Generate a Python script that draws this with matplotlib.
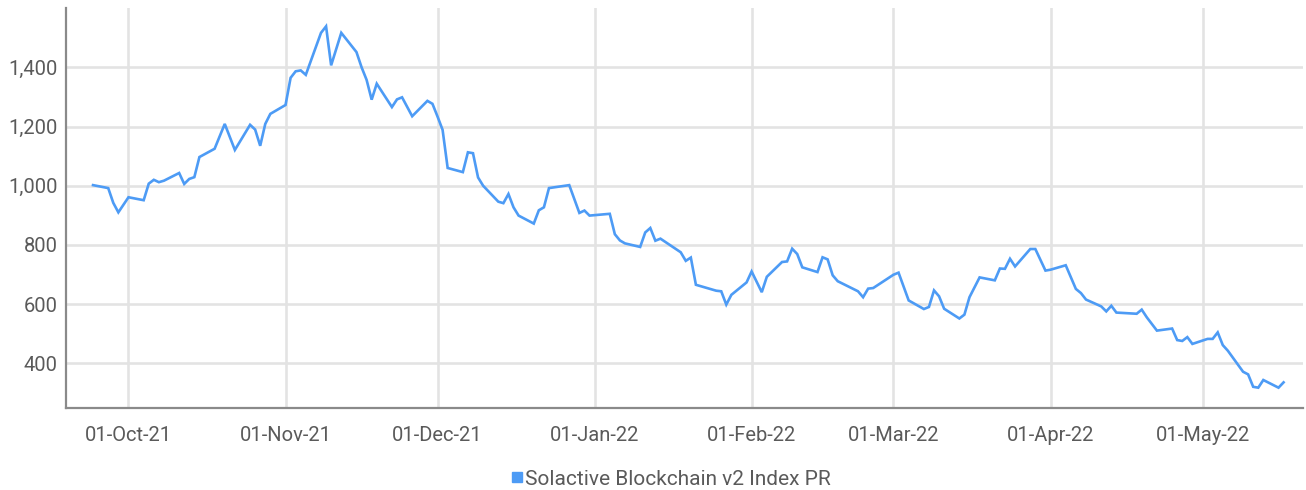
import matplotlib
matplotlib.use("Agg")
import matplotlib.pyplot as plt
import matplotlib.dates as mdates
from matplotlib.lines import Line2D
import pandas as pd

plt.rcParams['font.family'] = ['Roboto', 'DejaVu Sans']

# Solactive Blockchain v2 Index PR, daily closes
dates = [
    "2021-09-24", "2021-09-27", "2021-09-28", "2021-09-29", "2021-10-01",
    "2021-10-04", "2021-10-05", "2021-10-06", "2021-10-07", "2021-10-08",
    "2021-10-11", "2021-10-12", "2021-10-13", "2021-10-14", "2021-10-15",
    "2021-10-18", "2021-10-20", "2021-10-22", "2021-10-25", "2021-10-26",
    "2021-10-27", "2021-10-28", "2021-10-29", "2021-11-01", "2021-11-02",
    "2021-11-03", "2021-11-04", "2021-11-05", "2021-11-08", "2021-11-09",
    "2021-11-10", "2021-11-12", "2021-11-15", "2021-11-16", "2021-11-17",
    "2021-11-18", "2021-11-19", "2021-11-22", "2021-11-23", "2021-11-24",
    "2021-11-26", "2021-11-29", "2021-11-30", "2021-12-01", "2021-12-02",
    "2021-12-03", "2021-12-06", "2021-12-07", "2021-12-08", "2021-12-09",
    "2021-12-10", "2021-12-13", "2021-12-14", "2021-12-15", "2021-12-16",
    "2021-12-17", "2021-12-20", "2021-12-21", "2021-12-22", "2021-12-23",
    "2021-12-27", "2021-12-29", "2021-12-30", "2021-12-31", "2022-01-04",
    "2022-01-05", "2022-01-06", "2022-01-07", "2022-01-10", "2022-01-11",
    "2022-01-12", "2022-01-13", "2022-01-14", "2022-01-18", "2022-01-19",
    "2022-01-20", "2022-01-21", "2022-01-25", "2022-01-26", "2022-01-27",
    "2022-01-28", "2022-01-31", "2022-02-01", "2022-02-03", "2022-02-04",
    "2022-02-07", "2022-02-08", "2022-02-09", "2022-02-10", "2022-02-11",
    "2022-02-14", "2022-02-15", "2022-02-16", "2022-02-17", "2022-02-18",
    "2022-02-22", "2022-02-23", "2022-02-24", "2022-02-25", "2022-02-28",
    "2022-03-01", "2022-03-02", "2022-03-04", "2022-03-07", "2022-03-08",
    "2022-03-09", "2022-03-10", "2022-03-11", "2022-03-14", "2022-03-15",
    "2022-03-16", "2022-03-18", "2022-03-21", "2022-03-22", "2022-03-23",
    "2022-03-24", "2022-03-25", "2022-03-28", "2022-03-29", "2022-03-31",
    "2022-04-01", "2022-04-04", "2022-04-06", "2022-04-07", "2022-04-08",
    "2022-04-11", "2022-04-12", "2022-04-13", "2022-04-14", "2022-04-18",
    "2022-04-19", "2022-04-20", "2022-04-22", "2022-04-25", "2022-04-26",
    "2022-04-27", "2022-04-28", "2022-04-29", "2022-05-02", "2022-05-03",
    "2022-05-04", "2022-05-05", "2022-05-06", "2022-05-09", "2022-05-10",
    "2022-05-11", "2022-05-12", "2022-05-13", "2022-05-16", "2022-05-17",
]
index_values = [
    1002, 992, 942, 910, 961,
    951, 1007, 1020, 1012, 1017,
    1043, 1006, 1023, 1029, 1097,
    1125, 1209, 1121, 1206, 1190,
    1135, 1209, 1243, 1273, 1365,
    1387, 1390, 1375, 1517, 1539,
    1407, 1517, 1452, 1401, 1358,
    1291, 1345, 1266, 1292, 1299,
    1235, 1287, 1277, 1234, 1189,
    1060, 1046, 1113, 1110, 1028,
    1000, 946, 941, 972, 927,
    899, 872, 917, 927, 992,
    1002, 908, 916, 899, 905,
    836, 815, 805, 793, 842,
    857, 814, 821, 775, 746,
    757, 665, 645, 643, 598,
    631, 673, 710, 640, 692,
    742, 744, 787, 769, 724,
    708, 758, 751, 697, 677,
    643, 623, 652, 654, 688,
    699, 706, 612, 583, 590,
    646, 626, 584, 551, 564,
    623, 690, 680, 720, 719,
    753, 727, 786, 786, 713,
    716, 731, 651, 637, 615,
    592, 575, 594, 571, 567,
    581, 555, 510, 517, 478,
    475, 488, 465, 482, 482,
    504, 461, 442, 371, 362,
    320, 317, 343, 317, 335,
]
series_label = "Solactive Blockchain v2 Index PR"
y_ticks = [400, 600, 800, 1000, 1200, 1400]
month_ticks = ["2021-10-01", "2021-11-01", "2021-12-01", "2022-01-01",
               "2022-02-01", "2022-03-01", "2022-04-01", "2022-05-01"]

line_color = "#4d9bf5"
grid_color = "#e3e3e3"
text_color = "#5a5a5a"
spine_color = "#8a8a8a"

x = pd.to_datetime(dates)

fig = plt.figure(figsize=(13.06, 4.90), dpi=100)
ax = fig.add_axes([66 / 1306, 1 - 407.5 / 490, (1303 - 66) / 1306, (407.5 - 8.3) / 490])

ax.plot(x, index_values, color=line_color, lw=1.9, solid_joinstyle="miter",
        zorder=3)

ax.set_xlim(pd.Timestamp("2021-09-18 16:00"), pd.Timestamp("2022-05-20 20:00"))
ax.set_ylim(250, 1600)

ax.set_yticks(y_ticks)
ax.yaxis.set_major_formatter(matplotlib.ticker.FuncFormatter(lambda v, p: f"{v:,.0f}"))
ax.set_xticks(pd.to_datetime(month_ticks))
ax.xaxis.set_major_formatter(mdates.DateFormatter("%d-%b-%y"))

ax.grid(True, color=grid_color, lw=1.9, zorder=0)
ax.set_axisbelow(True)

for side in ("top", "right"):
    ax.spines[side].set_visible(False)
for side in ("left", "bottom"):
    ax.spines[side].set_color(spine_color)
    ax.spines[side].set_linewidth(1.6)

ax.tick_params(axis="both", length=0, labelsize=14.5, colors=text_color)
ax.tick_params(axis="x", pad=13)
ax.tick_params(axis="y", pad=6)

handle = Line2D([], [], marker="s", color=line_color, ls="none", markersize=7)
fig.legend([handle], [series_label], loc="center", bbox_to_anchor=(0.513, 1 - 479 / 490),
           frameon=False, fontsize=15, labelcolor=text_color, handletextpad=0.0,
           handlelength=0.8, borderaxespad=0)

fig.savefig("out.png", dpi=100)
